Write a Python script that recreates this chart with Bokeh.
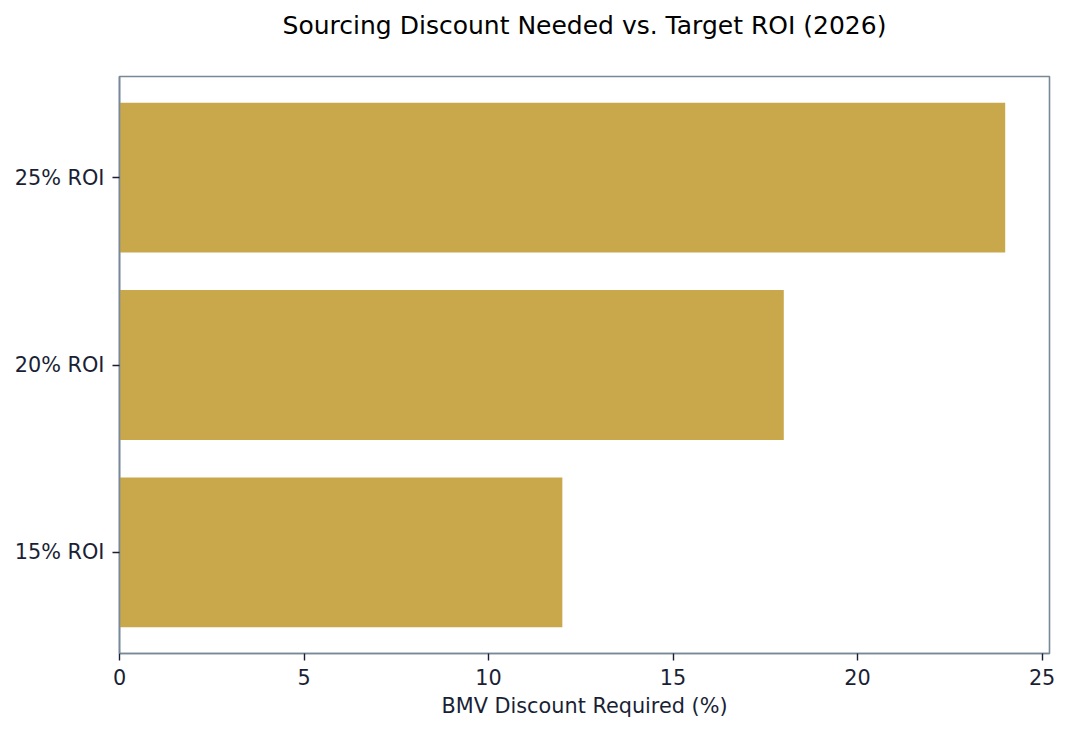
from bokeh.plotting import figure
from bokeh.models import ColumnDataSource, FixedTicker, Range1d, Title
from bokeh.embed import file_html
from bokeh.resources import INLINE

categories = ["15% ROI", "20% ROI", "25% ROI"]
discounts = [12, 18, 24]
x_ticks = [0, 5, 10, 15, 20, 25]
title_text = "Sourcing Discount Needed vs. Target ROI (2026)"

BAR = "#C9A84C"
SPINE = "#778899"
INK = "#1a1f36"
FONT = "DejaVu Sans"

src = ColumnDataSource(dict(cat=categories, val=discounts))

p = figure(
    y_range=categories,
    x_range=Range1d(0, 25.2),
    frame_width=930, frame_height=577,
    min_border_left=119, min_border_right=13,
    min_border_top=76, min_border_bottom=70,
    output_backend="svg", toolbar_location=None,
)
p.y_range.factor_padding = 0
p.y_range.range_padding = 0.04
p.y_range.range_padding_units = "absolute"
p.hbar(y="cat", right="val", left=0, height=0.8, source=src,
       fill_color=BAR, line_color=None)

# spacer (closest to the frame), then the real title above it
p.add_layout(Title(text=" ", text_font=FONT, text_font_size="25px",
                   standoff=0), "above")
p.add_layout(Title(text=title_text, align="center", text_font=FONT,
                   text_font_size="25px", text_font_style="normal",
                   text_color="#000000", standoff=12), "above")

p.xgrid.visible = False
p.ygrid.visible = False
p.outline_line_color = SPINE
p.outline_line_width = 1.6

for ax in (p.xaxis, p.yaxis):
    ax.axis_line_color = SPINE
    ax.axis_line_width = 1.6
    ax.major_tick_line_color = INK
    ax.major_tick_line_width = 1.4
    ax.major_tick_out = 7
    ax.major_tick_in = 0
    ax.minor_tick_line_color = None
    ax.major_label_text_font = FONT
    ax.major_label_text_font_size = "20.8px"
    ax.major_label_text_color = INK
    ax.axis_label_text_font = FONT
    ax.axis_label_text_font_size = "20.8px"
    ax.axis_label_text_color = INK
    ax.axis_label_text_font_style = "normal"

p.xaxis.ticker = FixedTicker(ticks=x_ticks)
p.xaxis.axis_label = "BMV Discount Required (%)"
p.xaxis.major_label_standoff = 8
p.xaxis.axis_label_standoff = 6
p.yaxis.major_label_standoff = 8

open("out.html", "w").write(file_html(p, INLINE))
